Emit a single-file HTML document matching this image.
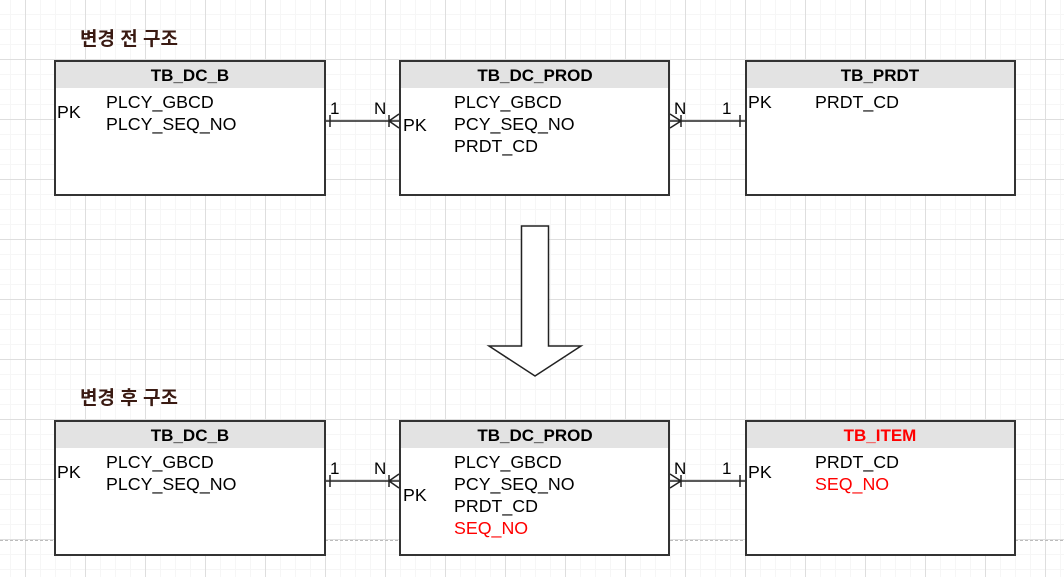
<!DOCTYPE html>
<html><head><meta charset="utf-8"><style>
html,body{margin:0;padding:0;background:#fff;}
svg{display:block;}
text{font-family:"Liberation Sans","Noto Sans CJK KR",sans-serif;}
</style></head><body>
<svg width="1064" height="577" viewBox="0 0 1064 577" xmlns="http://www.w3.org/2000/svg">
<defs>
<pattern id="minor" width="15" height="15" patternUnits="userSpaceOnUse" x="10" y="14">
<path d="M0.5 0V15M0 0.5H15" stroke="#f6f6f6" stroke-width="1" fill="none"/>
</pattern>
<pattern id="major" width="60" height="60" patternUnits="userSpaceOnUse" x="25" y="59">
<path d="M0.5 0V60M0 0.5H60" stroke="#dedede" stroke-width="1" fill="none"/>
</pattern>
</defs>
<rect width="1064" height="577" fill="#fff"/>
<rect width="1064" height="577" fill="url(#minor)"/>
<rect width="1064" height="577" fill="url(#major)"/>
<line x1="0" y1="540.5" x2="1064" y2="540.5" stroke="#bbb" stroke-dasharray="3,2"/>

<g font-size="19" font-weight="bold" fill="#3a1a12">
<text x="80" y="45">변경 전 구조</text>
<text x="80" y="404">변경 후 구조</text>
</g>

<g stroke="#333" stroke-width="2">
<rect x="55" y="61" width="270" height="134" fill="#fff"/>
<rect x="400" y="61" width="269" height="134" fill="#fff"/>
<rect x="746" y="61" width="269" height="134" fill="#fff"/>
<rect x="55" y="421" width="270" height="134" fill="#fff"/>
<rect x="400" y="421" width="269" height="134" fill="#fff"/>
<rect x="746" y="421" width="269" height="134" fill="#fff"/>
</g>
<g fill="#e3e3e3">
<rect x="56" y="62" width="268" height="26"/>
<rect x="401" y="62" width="267" height="26"/>
<rect x="747" y="62" width="267" height="26"/>
<rect x="56" y="422" width="268" height="26"/>
<rect x="401" y="422" width="267" height="26"/>
<rect x="747" y="422" width="267" height="26"/>
</g>

<g font-size="17" font-weight="bold" fill="#000" text-anchor="middle">
<text x="190" y="81">TB_DC_B</text>
<text x="535" y="81">TB_DC_PROD</text>
<text x="880" y="81">TB_PRDT</text>
<text x="190" y="441">TB_DC_B</text>
<text x="535" y="441">TB_DC_PROD</text>
<text x="880" y="441" fill="#ff0000">TB_ITEM</text>
</g>

<g font-size="17.8" fill="#000">
<text x="57" y="118">PK</text>
<text x="106" y="108">PLCY_GBCD</text>
<text x="106" y="130">PLCY_SEQ_NO</text>
<text x="403" y="131">PK</text>
<text x="454" y="108">PLCY_GBCD</text>
<text x="454" y="130">PCY_SEQ_NO</text>
<text x="454" y="152">PRDT_CD</text>
<text x="748" y="108">PK</text>
<text x="815" y="108">PRDT_CD</text>

<text x="57" y="478">PK</text>
<text x="106" y="468">PLCY_GBCD</text>
<text x="106" y="490">PLCY_SEQ_NO</text>
<text x="403" y="501">PK</text>
<text x="454" y="468">PLCY_GBCD</text>
<text x="454" y="490">PCY_SEQ_NO</text>
<text x="454" y="512">PRDT_CD</text>
<text x="454" y="534" fill="#ff0000">SEQ_NO</text>
<text x="748" y="478">PK</text>
<text x="815" y="468">PRDT_CD</text>
<text x="815" y="490" fill="#ff0000">SEQ_NO</text>
</g>

<g font-size="17" fill="#000">
<text x="330" y="114">1</text><text x="374" y="114">N</text>
<text x="674" y="114">N</text><text x="722" y="114">1</text>
<text x="330" y="474">1</text><text x="374" y="474">N</text>
<text x="674" y="474">N</text><text x="722" y="474">1</text>
</g>

<g stroke="#222" stroke-width="1.5" fill="none">
<path d="M326 121H399M330 115V127M389 115V127M389 121L399 114M389 121L399 128"/>
<path d="M670 121H745M740 115V127M681 115V127M681 121L670 114M681 121L670 128"/>
<path d="M326 481H399M330 475V487M389 475V487M389 481L399 474M389 481L399 488"/>
<path d="M670 481H745M740 475V487M681 475V487M681 481L670 474M681 481L670 488"/>
</g>

<path d="M521.5 226H548.5V346H581L535 376L489 346H521.5Z" fill="#fff" stroke="#222" stroke-width="1.5"/>
</svg>
</body></html>
